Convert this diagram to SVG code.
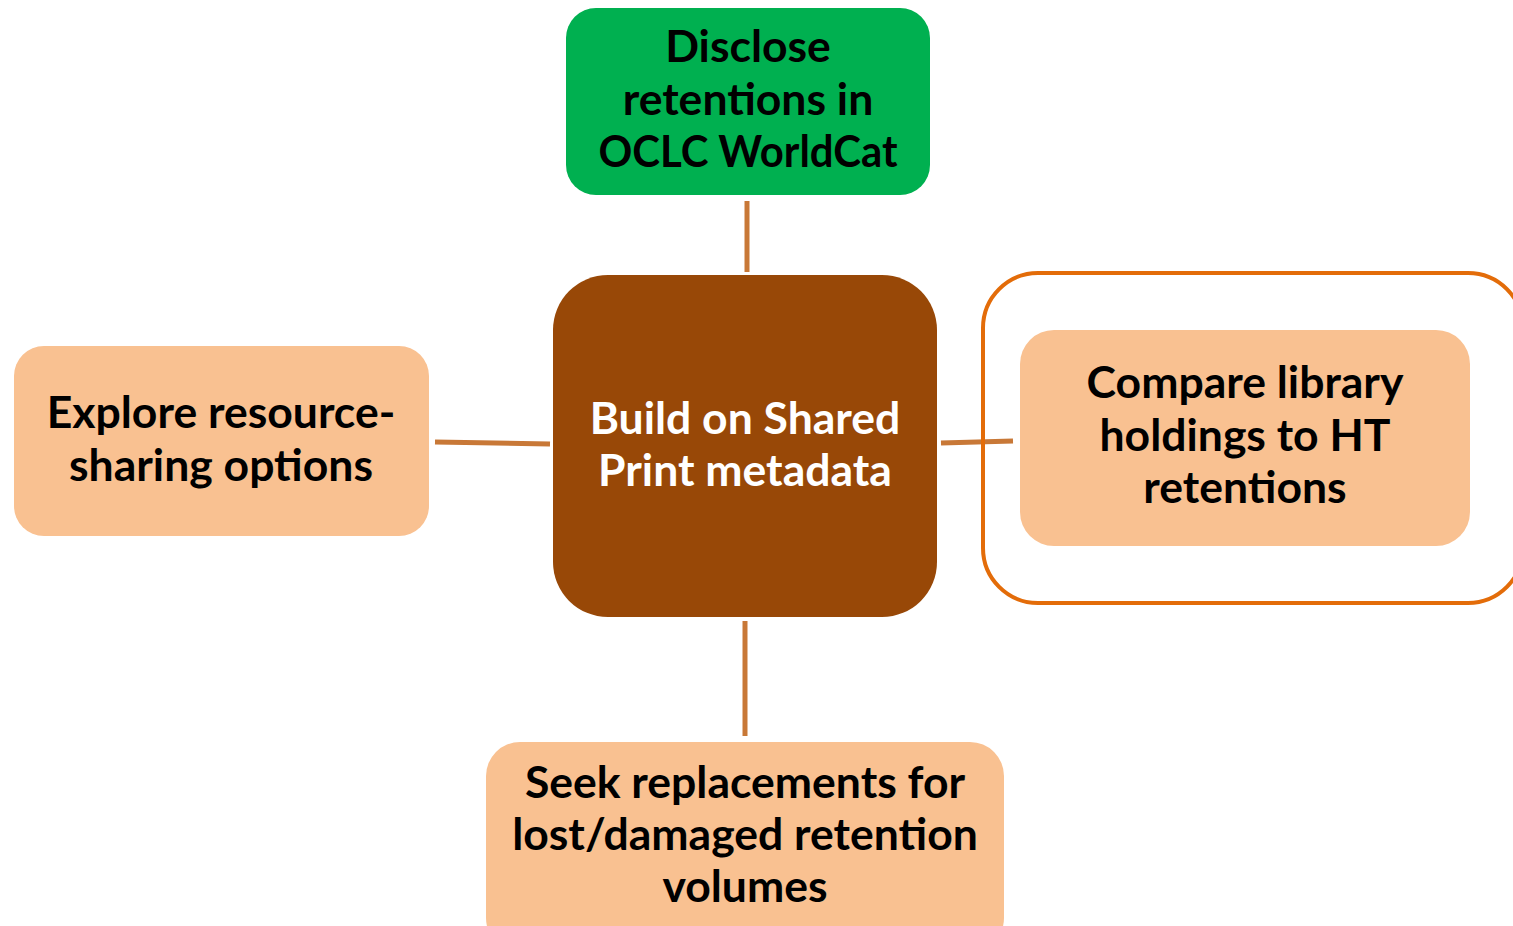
<svg xmlns="http://www.w3.org/2000/svg" width="1513" height="926" viewBox="0 0 1513 926">
<style>
.t{font-family:Lato,"Open Sans","Liberation Sans",sans-serif;font-weight:700;font-size:44.5px;text-anchor:middle;fill:#000}
.w{fill:#fff}
.peach{fill:#F9C191}
.conn{stroke:#C87837;stroke-width:5;fill:none}
</style>
<rect width="1513" height="926" fill="#fff"/>
<g id="connectors">
<line class="conn" x1="747" y1="201" x2="747" y2="272"/>
<line class="conn" x1="435" y1="442" x2="550" y2="444"/>
<line class="conn" x1="941" y1="443" x2="1013" y2="441"/>
<line class="conn" x1="745" y1="621" x2="745" y2="736"/>
</g>
<g id="disclose">
<rect x="566" y="8" width="364" height="187" rx="30" fill="#00B050"/>
<text class="t" x="748" y="62">Disclose</text>
<text class="t" x="748" y="115">retentions in</text>
<text class="t" x="748" y="167" textLength="299" lengthAdjust="spacingAndGlyphs">OCLC WorldCat</text>
</g>
<g id="center">
<rect x="553" y="275" width="384" height="342" rx="55" fill="#984807"/>
<text class="t w" x="745" y="434">Build on Shared</text>
<text class="t w" x="745" y="486">Print metadata</text>
</g>
<g id="explore">
<rect x="14" y="346" width="415" height="190" rx="30" class="peach"/>
<text class="t" x="221" y="428">Explore resource-</text>
<text class="t" x="221" y="481">sharing options</text>
</g>
<g id="compare-frame">
<rect x="983" y="273" width="540" height="330" rx="55" fill="none" stroke="#E36C09" stroke-width="4"/>
</g>
<g id="compare">
<rect x="1020" y="330" width="450" height="216" rx="34" class="peach"/>
<text class="t" x="1245" y="398">Compare library</text>
<text class="t" x="1245" y="451">holdings to HT</text>
<text class="t" x="1245" y="503">retentions</text>
</g>
<g id="seek">
<rect x="486" y="742" width="518" height="210" rx="34" class="peach"/>
<text class="t" x="745" y="798">Seek replacements for</text>
<text class="t" x="745" y="850">lost/damaged retention</text>
<text class="t" x="745" y="902">volumes</text>
</g>
</svg>
